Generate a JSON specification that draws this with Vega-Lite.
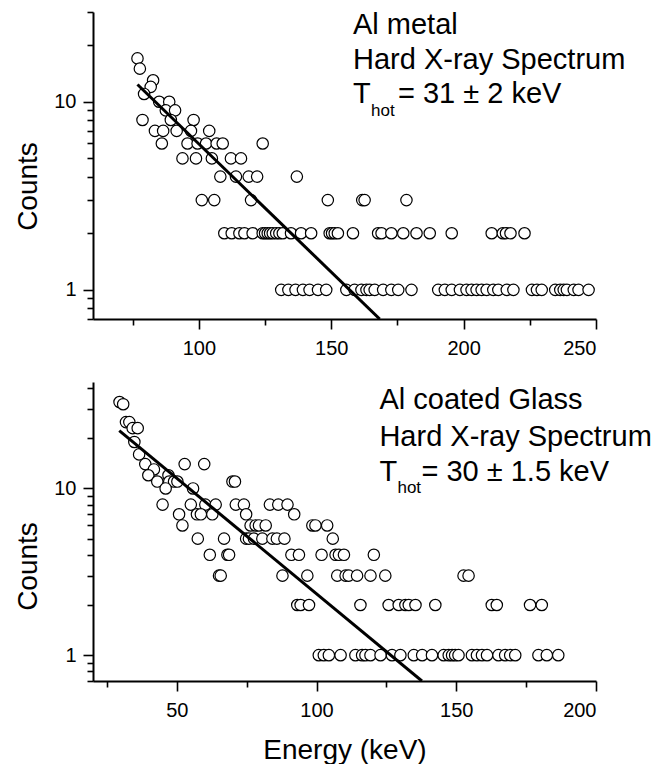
{
  "$schema": "https://vega.github.io/schema/vega-lite/v6.json",
  "background": "white",
  "padding": {"left": 14, "top": 11, "right": 0, "bottom": 0},
  "spacing": 24,
  "config": {
    "view": {"stroke": null},
    "font": "Liberation Sans",
    "axis": {
      "grid": false,
      "domainColor": "black",
      "domainWidth": 2,
      "tickColor": "black",
      "tickWidth": 1.6,
      "labelFont": "Liberation Sans",
      "labelFontSize": 20,
      "labelColor": "black",
      "titleFont": "Liberation Sans",
      "titleFontSize": 28,
      "titleFontWeight": "normal",
      "titleColor": "black"
    }
  },
  "resolve": {"scale": {"x": "independent", "y": "independent"}},
  "datasets": {
    "top_pts": [
      {"E": 76.8, "c": 17}, {"E": 77.7, "c": 15}, {"E": 82.7, "c": 13}, {"E": 81.8, "c": 12}, {"E": 79.3, "c": 11},
      {"E": 85, "c": 10}, {"E": 88.8, "c": 10}, {"E": 87.5, "c": 9}, {"E": 91, "c": 9},
      {"E": 78.7, "c": 8}, {"E": 98, "c": 8}, {"E": 89.4, "c": 8},
      {"E": 83.4, "c": 7}, {"E": 86.5, "c": 7}, {"E": 91.6, "c": 7}, {"E": 97, "c": 7}, {"E": 103.9, "c": 7},
      {"E": 86, "c": 6}, {"E": 95.7, "c": 6}, {"E": 99.5, "c": 6}, {"E": 102.7, "c": 6}, {"E": 106.7, "c": 6}, {"E": 109, "c": 6}, {"E": 124.1, "c": 6},
      {"E": 93.8, "c": 5}, {"E": 98.9, "c": 5}, {"E": 104.9, "c": 5}, {"E": 112.1, "c": 5}, {"E": 115.9, "c": 5},
      {"E": 108.1, "c": 4}, {"E": 114, "c": 4}, {"E": 118.8, "c": 4}, {"E": 122, "c": 4}, {"E": 137, "c": 4},
      {"E": 101.1, "c": 3}, {"E": 105.8, "c": 3}, {"E": 119.7, "c": 3}, {"E": 148.7, "c": 3}, {"E": 161.7, "c": 3}, {"E": 162.6, "c": 3}, {"E": 178.4, "c": 3},
      {"E": 109.6, "c": 2}, {"E": 112.4, "c": 2}, {"E": 115.3, "c": 2}, {"E": 117.2, "c": 2}, {"E": 120.3, "c": 2}, {"E": 124.1, "c": 2},
      {"E": 125, "c": 2}, {"E": 126, "c": 2}, {"E": 126.9, "c": 2}, {"E": 127.9, "c": 2}, {"E": 129.2, "c": 2}, {"E": 130.4, "c": 2},
      {"E": 131.7, "c": 2}, {"E": 134.8, "c": 2}, {"E": 138.6, "c": 2}, {"E": 142.4, "c": 2}, {"E": 149.4, "c": 2}, {"E": 150.3, "c": 2},
      {"E": 151.3, "c": 2}, {"E": 152.5, "c": 2}, {"E": 158.2, "c": 2}, {"E": 167.7, "c": 2}, {"E": 169, "c": 2}, {"E": 172.7, "c": 2},
      {"E": 177.2, "c": 2}, {"E": 182.2, "c": 2}, {"E": 187.2, "c": 2}, {"E": 195.5, "c": 2}, {"E": 210.6, "c": 2}, {"E": 214.8, "c": 2},
      {"E": 216, "c": 2}, {"E": 217.7, "c": 2}, {"E": 223, "c": 2},
      {"E": 131.1, "c": 1}, {"E": 133.8, "c": 1}, {"E": 136.5, "c": 1}, {"E": 139.3, "c": 1}, {"E": 141.8, "c": 1}, {"E": 145, "c": 1},
      {"E": 148.1, "c": 1}, {"E": 155.7, "c": 1}, {"E": 158.8, "c": 1}, {"E": 161.4, "c": 1}, {"E": 163.3, "c": 1}, {"E": 164.5, "c": 1},
      {"E": 166.4, "c": 1}, {"E": 169.6, "c": 1}, {"E": 172.7, "c": 1}, {"E": 175.3, "c": 1}, {"E": 180.3, "c": 1}, {"E": 190.4, "c": 1},
      {"E": 192.9, "c": 1}, {"E": 195.5, "c": 1}, {"E": 198.6, "c": 1}, {"E": 201.1, "c": 1}, {"E": 203, "c": 1}, {"E": 204.9, "c": 1},
      {"E": 206.8, "c": 1}, {"E": 208.7, "c": 1}, {"E": 211.2, "c": 1}, {"E": 213.1, "c": 1}, {"E": 216.3, "c": 1}, {"E": 218.8, "c": 1},
      {"E": 225.8, "c": 1}, {"E": 227.7, "c": 1}, {"E": 229.5, "c": 1}, {"E": 234.6, "c": 1}, {"E": 236.5, "c": 1}, {"E": 237.8, "c": 1},
      {"E": 239, "c": 1}, {"E": 241.6, "c": 1}, {"E": 243.4, "c": 1}, {"E": 247.2, "c": 1}
    ],
    "top_fit": [{"E": 76.8, "c": 12.35}, {"E": 168.3, "c": 0.7}],
    "top_txt": [
      {"E": 158.2, "c": 22.9, "t": "Al metal", "kind": "main"},
      {"E": 158.2, "c": 14.9, "t": "Hard X-ray Spectrum", "kind": "main"},
      {"E": 158.2, "c": 9.85, "t": "T", "kind": "main"},
      {"E": 158.2, "c": 9.85, "t": "hot", "kind": "sub"},
      {"E": 158.2, "c": 9.85, "t": "= 31 ± 2 keV", "kind": "rest"}
    ],
    "bot_pts": [
      {"E": 29.5, "c": 33}, {"E": 30.8, "c": 32}, {"E": 31.8, "c": 25}, {"E": 33, "c": 25}, {"E": 34.2, "c": 23}, {"E": 36, "c": 23},
      {"E": 34.8, "c": 19}, {"E": 36.5, "c": 16}, {"E": 38.7, "c": 14}, {"E": 52.8, "c": 14}, {"E": 59.8, "c": 14}, {"E": 41.8, "c": 13},
      {"E": 39.8, "c": 12}, {"E": 47, "c": 12},
      {"E": 43, "c": 11}, {"E": 47.3, "c": 11}, {"E": 49, "c": 11}, {"E": 50.2, "c": 11}, {"E": 69.9, "c": 11}, {"E": 70.8, "c": 11},
      {"E": 46, "c": 10}, {"E": 55.8, "c": 10},
      {"E": 44.9, "c": 8}, {"E": 55, "c": 8}, {"E": 60.2, "c": 8}, {"E": 63.9, "c": 8}, {"E": 71.1, "c": 8}, {"E": 74, "c": 8},
      {"E": 83.3, "c": 8}, {"E": 86.3, "c": 8}, {"E": 89.6, "c": 8},
      {"E": 50.8, "c": 7}, {"E": 57.2, "c": 7}, {"E": 58.6, "c": 7}, {"E": 62.7, "c": 7}, {"E": 74.8, "c": 7}, {"E": 92, "c": 7},
      {"E": 52, "c": 6}, {"E": 76.4, "c": 6}, {"E": 78.2, "c": 6}, {"E": 79.4, "c": 6}, {"E": 81.8, "c": 6}, {"E": 98.5, "c": 6},
      {"E": 99.6, "c": 6}, {"E": 103.8, "c": 6},
      {"E": 57.5, "c": 5}, {"E": 66.9, "c": 5}, {"E": 74.8, "c": 5}, {"E": 75.8, "c": 5}, {"E": 77.6, "c": 5}, {"E": 80.6, "c": 5},
      {"E": 84.2, "c": 5}, {"E": 85.8, "c": 5}, {"E": 88.5, "c": 5}, {"E": 105.8, "c": 5},
      {"E": 61.8, "c": 4}, {"E": 68.1, "c": 4}, {"E": 68.7, "c": 4}, {"E": 91, "c": 4}, {"E": 93.7, "c": 4}, {"E": 101.8, "c": 4},
      {"E": 106.8, "c": 4}, {"E": 108, "c": 4}, {"E": 109.8, "c": 4}, {"E": 120.5, "c": 4},
      {"E": 65.1, "c": 3}, {"E": 65.7, "c": 3}, {"E": 87.8, "c": 3}, {"E": 96.7, "c": 3}, {"E": 107.4, "c": 3}, {"E": 110.4, "c": 3},
      {"E": 111.5, "c": 3}, {"E": 114.5, "c": 3}, {"E": 119.3, "c": 3}, {"E": 124.6, "c": 3}, {"E": 152.6, "c": 3}, {"E": 154.4, "c": 3},
      {"E": 93.1, "c": 2}, {"E": 94.3, "c": 2}, {"E": 97.3, "c": 2}, {"E": 115.7, "c": 2}, {"E": 125.8, "c": 2}, {"E": 129.4, "c": 2},
      {"E": 131.8, "c": 2}, {"E": 133, "c": 2}, {"E": 135.4, "c": 2}, {"E": 142.5, "c": 2}, {"E": 162.7, "c": 2}, {"E": 164.5, "c": 2},
      {"E": 176.4, "c": 2}, {"E": 180.6, "c": 2},
      {"E": 100.8, "c": 1}, {"E": 102.6, "c": 1}, {"E": 104.4, "c": 1}, {"E": 108.6, "c": 1}, {"E": 113.9, "c": 1}, {"E": 116.3, "c": 1},
      {"E": 117.5, "c": 1}, {"E": 119.3, "c": 1}, {"E": 122.9, "c": 1}, {"E": 127, "c": 1}, {"E": 130, "c": 1}, {"E": 134.8, "c": 1},
      {"E": 137.8, "c": 1}, {"E": 141.3, "c": 1}, {"E": 145.5, "c": 1}, {"E": 147.3, "c": 1}, {"E": 148.5, "c": 1}, {"E": 149.6, "c": 1},
      {"E": 150.8, "c": 1}, {"E": 155.6, "c": 1}, {"E": 157.4, "c": 1}, {"E": 159.2, "c": 1}, {"E": 161, "c": 1}, {"E": 165.1, "c": 1},
      {"E": 167.5, "c": 1}, {"E": 169.3, "c": 1}, {"E": 171.1, "c": 1}, {"E": 179.4, "c": 1}, {"E": 182.4, "c": 1}, {"E": 186.5, "c": 1}
    ],
    "bot_fit": [{"E": 29.4, "c": 22.2}, {"E": 137.7, "c": 0.7}],
    "bot_txt": [
      {"E": 122.5, "c": 30, "t": "Al coated Glass", "kind": "main"},
      {"E": 122.5, "c": 18.06, "t": "Hard X-ray Spectrum", "kind": "main"},
      {"E": 122.5, "c": 11.1, "t": "T", "kind": "main"},
      {"E": 122.5, "c": 11.1, "t": "hot", "kind": "sub"},
      {"E": 122.5, "c": 11.1, "t": "= 30 ± 1.5 keV", "kind": "rest"}
    ]
  },
  "vconcat": [
    {
      "width": 503,
      "height": 307,
      "encoding": {
        "x": {
          "field": "E", "type": "quantitative",
          "scale": {"domain": [60, 250], "nice": false, "zero": false},
          "axis": {
            "values": [75, 100, 125, 150, 175, 200, 225, 250],
            "labelExpr": "datum.value % 50 == 0 ? datum.label : ''",
            "tickSize": {"condition": {"test": "datum.value % 50 == 0", "value": 10}, "value": 6},
            "labelPadding": 9,
            "title": null
          }
        },
        "y": {
          "field": "c", "type": "quantitative",
          "scale": {"type": "log", "domain": [0.7, 30], "nice": false},
          "axis": {
            "values": [0.7, 0.8, 0.9, 1, 2, 3, 4, 5, 6, 7, 8, 9, 10, 20, 30],
            "labelExpr": "datum.value == 1 ? '1' : datum.value == 10 ? '10' : ''",
            "tickSize": {"condition": {"test": "datum.value == 1 || datum.value == 10", "value": 10}, "value": 6},
            "labelPadding": 7,
            "title": "Counts",
            "titleY": 174,
            "titlePadding": 11
          }
        }
      },
      "layer": [
        {
          "data": {"name": "top_pts"},
          "mark": {"type": "point", "shape": "circle", "filled": true, "fill": "white", "stroke": "black", "strokeWidth": 1.2, "size": 130, "opacity": 1}
        },
        {
          "data": {"name": "top_fit"},
          "mark": {"type": "line", "color": "black", "strokeWidth": 3, "clip": true}
        },
        {
          "data": {"name": "top_txt"},
          "transform": [{"filter": "datum.kind == 'main'"}],
          "mark": {"type": "text", "align": "left", "baseline": "alphabetic", "fontSize": 29, "font": "Liberation Sans", "color": "black"},
          "encoding": {"text": {"field": "t"}}
        },
        {
          "data": {"name": "top_txt"},
          "transform": [{"filter": "datum.kind == 'sub'"}],
          "mark": {"type": "text", "align": "left", "baseline": "alphabetic", "fontSize": 17, "dx": 18, "dy": 13, "font": "Liberation Sans", "color": "black"},
          "encoding": {"text": {"field": "t"}}
        },
        {
          "data": {"name": "top_txt"},
          "transform": [{"filter": "datum.kind == 'rest'"}],
          "mark": {"type": "text", "align": "left", "baseline": "alphabetic", "fontSize": 29, "dx": 45, "font": "Liberation Sans", "color": "black"},
          "encoding": {"text": {"field": "t"}}
        }
      ]
    },
    {
      "width": 503,
      "height": 299,
      "encoding": {
        "x": {
          "field": "E", "type": "quantitative",
          "scale": {"domain": [20, 200], "nice": false, "zero": false},
          "axis": {
            "values": [25, 50, 75, 100, 125, 150, 175, 200],
            "labelExpr": "datum.value % 50 == 0 ? datum.label : ''",
            "tickSize": {"condition": {"test": "datum.value % 50 == 0", "value": 10}, "value": 6},
            "labelPadding": 9,
            "title": "Energy (keV)",
            "titlePadding": 16
          }
        },
        "y": {
          "field": "c", "type": "quantitative",
          "scale": {"type": "log", "domain": [0.7, 43.5], "nice": false},
          "axis": {
            "values": [0.7, 0.8, 0.9, 1, 2, 3, 4, 5, 6, 7, 8, 9, 10, 20, 30, 40],
            "labelExpr": "datum.value == 1 ? '1' : datum.value == 10 ? '10' : ''",
            "tickSize": {"condition": {"test": "datum.value == 1 || datum.value == 10", "value": 10}, "value": 6},
            "labelPadding": 7,
            "title": "Counts",
            "titleY": 184,
            "titlePadding": 11
          }
        }
      },
      "layer": [
        {
          "data": {"name": "bot_pts"},
          "mark": {"type": "point", "shape": "circle", "filled": true, "fill": "white", "stroke": "black", "strokeWidth": 1.2, "size": 130, "opacity": 1}
        },
        {
          "data": {"name": "bot_fit"},
          "mark": {"type": "line", "color": "black", "strokeWidth": 3, "clip": true}
        },
        {
          "data": {"name": "bot_txt"},
          "transform": [{"filter": "datum.kind == 'main'"}],
          "mark": {"type": "text", "align": "left", "baseline": "alphabetic", "fontSize": 29, "font": "Liberation Sans", "color": "black"},
          "encoding": {"text": {"field": "t"}}
        },
        {
          "data": {"name": "bot_txt"},
          "transform": [{"filter": "datum.kind == 'sub'"}],
          "mark": {"type": "text", "align": "left", "baseline": "alphabetic", "fontSize": 17, "dx": 18, "dy": 12, "font": "Liberation Sans", "color": "black"},
          "encoding": {"text": {"field": "t"}}
        },
        {
          "data": {"name": "bot_txt"},
          "transform": [{"filter": "datum.kind == 'rest'"}],
          "mark": {"type": "text", "align": "left", "baseline": "alphabetic", "fontSize": 29, "dx": 42, "font": "Liberation Sans", "color": "black"},
          "encoding": {"text": {"field": "t"}}
        }
      ]
    }
  ]
}
